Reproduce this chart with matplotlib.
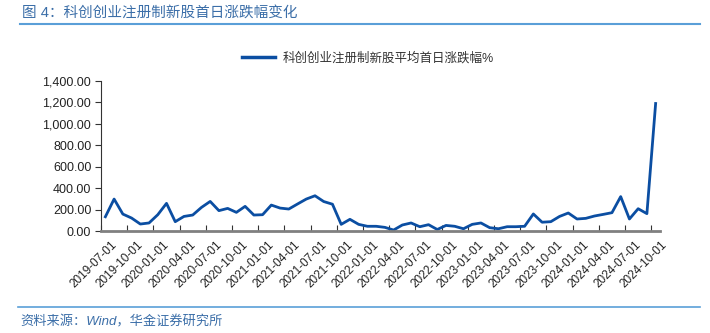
import matplotlib
matplotlib.use("Agg")
import matplotlib.pyplot as plt
from matplotlib.lines import Line2D

plt.rcParams['font.family'] = ['Liberation Sans', 'Noto Sans CJK SC']

# Monthly average first-day change of STAR/ChiNext registration IPOs, 2019-07 .. 2024-10
months = [f"{2019 + (6 + i) // 12}-{(6 + i) % 12 + 1:02d}-01" for i in range(64)]
first_day_pct = [
    133, 298, 158, 121, 65, 75, 152, 258, 87, 136, 149, 220,
    276, 190, 211, 174, 230, 149, 152, 242, 214, 205, 252, 298,
    329, 275, 250, 62, 109, 62, 44, 44, 34, 9, 56, 75,
    40, 59, 14, 52, 44, 21, 62, 75, 31, 21, 40, 40,
    44, 159, 82, 87, 136, 168, 112, 118, 140, 155, 171, 321,
    112, 208, 162, 1190,
]
tick_idx = list(range(0, 64, 3))
yticks = [0, 200, 400, 600, 800, 1000, 1200, 1400]

LINE_BLUE = '#0b4ea2'
HEAD_BLUE = '#3b6ea8'
RULE_BLUE = '#5a9fd8'

fig = plt.figure(figsize=(7.1, 3.33), dpi=100)
ax = fig.add_axes([101 / 710, 102 / 333, 559 / 710, 150 / 333])

x = list(range(len(first_day_pct)))
ax.plot(x, first_day_pct, color=LINE_BLUE, lw=2.0, solid_joinstyle='round')

ax.set_xlim(-0.5, len(first_day_pct) - 0.5)
ax.set_ylim(0, 1400)
ax.set_yticks(yticks)
ax.set_yticklabels([f"{v:,.2f}" for v in yticks], fontsize=9, color='#222222')

# category-axis style: tick marks sit on boundaries, labels on the categories
ax.set_xticks([i - 0.5 for i in tick_idx], minor=False)
ax.set_xticklabels([])
ax.tick_params(axis='x', direction='in', length=4, width=0.8, color='#333333')
ax.tick_params(axis='y', direction='out', length=4, width=0.8, color='#333333', pad=3)
for i in tick_idx:
    ax.annotate(months[i], xy=(i, 0), xycoords=('data', 'axes fraction'),
                xytext=(4, -6), textcoords='offset points',
                rotation=45, ha='right', va='top', rotation_mode='anchor',
                fontsize=8.5, color='#222222')

for side in ('top', 'right'):
    ax.spines[side].set_visible(False)
ax.spines['left'].set_color('#333333')
ax.spines['left'].set_linewidth(0.8)
ax.spines['bottom'].set_color('#808080')
ax.spines['bottom'].set_linewidth(2.0)

# legend
leg_handle = Line2D([], [], color=LINE_BLUE, lw=2.5)
fig.legend([leg_handle], ['科创创业注册制新股平均首日涨跌幅%'],
           loc='center', bbox_to_anchor=(368 / 710, 1 - 58 / 333),
           frameon=False, fontsize=9, handlelength=2.6, handletextpad=0.6,
           labelcolor='#333333')

# header, rules and source note
fig.text(22 / 710, 1 - 13 / 333, '图 4：科创创业注册制新股首日涨跌幅变化',
         fontsize=10.5, color=HEAD_BLUE, va='center', ha='left')
fig.add_artist(Line2D([20 / 710, 700 / 710], [1 - 24 / 333, 1 - 24 / 333],
                      color=RULE_BLUE, lw=1.5))
fig.add_artist(Line2D([18 / 710, 700 / 710], [1 - 307 / 333, 1 - 307 / 333],
                      color=RULE_BLUE, lw=1.2))
fig.text(20 / 710, 1 - 322 / 333, '资料来源：Wind，华金证券研究所',
         fontsize=9.5, color=HEAD_BLUE, style='italic', va='center', ha='left')

fig.savefig('out.png', dpi=100)
